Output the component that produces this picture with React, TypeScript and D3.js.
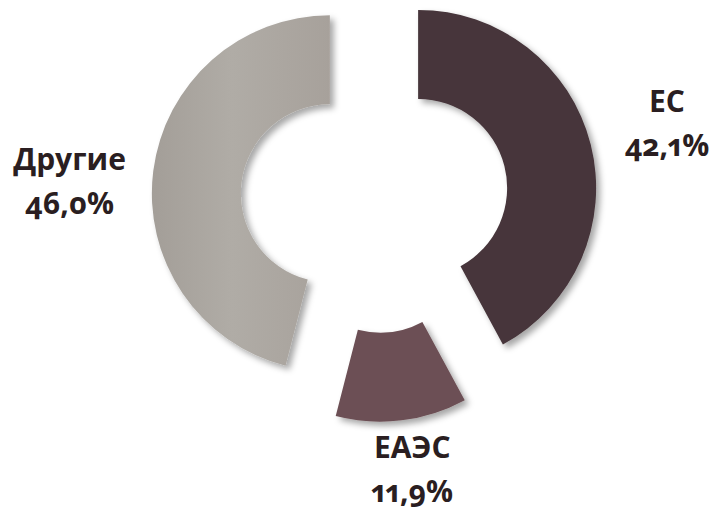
import React from 'react';
import * as d3 from 'd3';

const categories = ['ЕС', 'ЕАЭС', 'Другие'];
const shares = [42.1, 11.9, 46.0];
const shareLabels = ['42,1%', '11,9%', '46,0%'];
const colors = ['#46353a', '#6c4f54', '#aca7a1'];

const width = 709;
const height = 514;
const cx = 374.5;
const cy = 199;
const outer = 178;
const inner = 89;
const explode = 45;
const labelRadius = [304, 266, 306];
const labelTurn = [-0.028, -0.02, -0.044]; // radians, small nudges off the bisector

export default function App() {
    const pie = d3.pie<number>().sort(null).value(d => d);
    const slices = pie(shares);
    const arc = d3.arc<d3.PieArcDatum<number>>().innerRadius(inner).outerRadius(outer);

    return (
        <svg width={width} height={height} style={{ position: 'absolute', left: 0, top: 0 }}
            fontFamily="'Open Sans', sans-serif">
            <defs>
                <filter id="shade" x="-20%" y="-20%" width="140%" height="140%">
                    <feDropShadow dx="4" dy="4" stdDeviation="3" floodColor="#000" floodOpacity="0.35" />
                </filter>
                <linearGradient id="grey" x1="0" x2="1" y1="0" y2="0">
                    <stop offset="0" stopColor="#a39e98" />
                    <stop offset="0.45" stopColor="#b0aca6" />
                    <stop offset="1" stopColor="#a7a19b" />
                </linearGradient>
            </defs>
            <g transform={`translate(${cx},${cy})`}>
                {slices.map((s, i) => {
                    const mid = (s.startAngle + s.endAngle) / 2;
                    const dx = Math.sin(mid) * explode;
                    const dy = -Math.cos(mid) * explode;
                    return (
                        <path key={categories[i]} d={arc(s) ?? ''}
                            transform={`translate(${dx},${dy})`}
                            fill={i === 2 ? 'url(#grey)' : colors[i]}
                            filter="url(#shade)" />
                    );
                })}
                {slices.map((s, i) => {
                    const mid = (s.startAngle + s.endAngle) / 2 + labelTurn[i];
                    const x = Math.sin(mid) * labelRadius[i];
                    const y = -Math.cos(mid) * labelRadius[i];
                    return (
                        <text key={'t' + i} x={x} y={y} textAnchor="middle" fill="#2a1e21"
                            fontWeight={700} fontSize={30}
                            style={{ fontVariantNumeric: 'oldstyle-nums proportional-nums' }}>
                            <tspan x={x} dy={-4}>{categories[i]}</tspan>
                            <tspan x={x} dy={44}>{shareLabels[i]}</tspan>
                        </text>
                    );
                })}
            </g>
        </svg>
    );
}
